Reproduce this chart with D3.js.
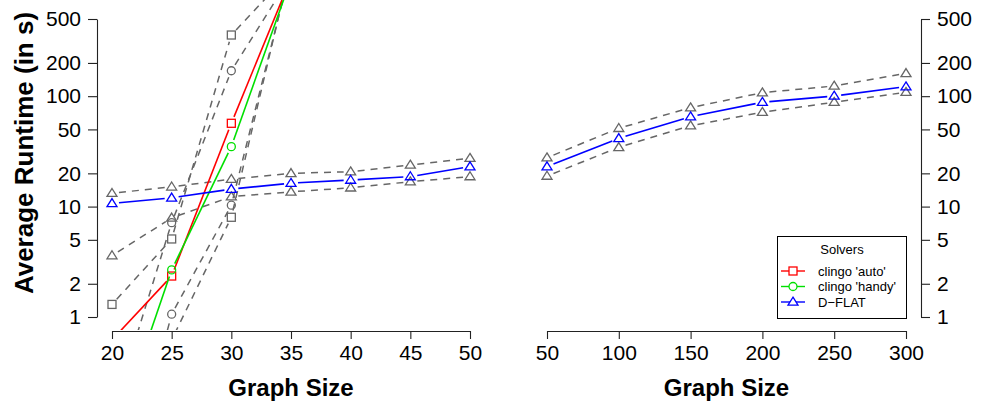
<!DOCTYPE html>
<html>
<head>
<meta charset="utf-8">
<script src="https://cdn.jsdelivr.net/npm/d3@7"></script>
<style>
  html, body { margin: 0; padding: 0; background: #fff; }
  svg { display: block; font-family: "Liberation Sans", Arial, Helvetica, sans-serif; }
</style>
</head>
<body>
<svg id="chart" width="982" height="405"></svg>
<script>
// ---- data -------------------------------------------------------------
const sizesSmall = [20, 25, 30, 35, 40, 45, 50];
const sizesLarge = [50, 100, 150, 200, 250, 300];

// clingo runs time out beyond size 35, so those entries are empty
const clingoAuto     = [0.62, 2.35, 56.8, 1175, null, null, null];
const clingoAutoMin  = [0.2, 0.62, 8.0, 1570, null, null, null];
const clingoAutoMax  = [1.30, 5.09, 358, 1350, null, null, null];
const clingoHandy    = [0.07, 2.67, 34.9, 1150, null, null, null];
const clingoHandyMin = [0.01, 1.06, 10.3, 1470, null, null, null];
const clingoHandyMax = [0.13, 7.15, 170, 1225, null, null, null];

const dflatSmall     = [10.7, 12.0, 14.4, 16.3, 17.4, 18.7, 23.0];
const dflatSmallMin  = [3.6, 7.9, 12.3, 13.6, 14.8, 16.8, 18.7];
const dflatSmallMax  = [13.2, 15.1, 17.7, 20.0, 20.7, 23.8, 27.4];

const dflatLarge     = [23.0, 41.5, 65.2, 88.1, 100.4, 121.9];
const dflatLargeMin  = [18.9, 34.4, 54.0, 71.5, 88.1, 108.5];
const dflatLargeMax  = [27.7, 51.2, 78.7, 107.6, 123.7, 161];

const yTicks = [1, 2, 5, 10, 20, 50, 100, 200, 500];
const xTicksSmall = [20, 25, 30, 35, 40, 45, 50];
const xTicksLarge = [50, 100, 150, 200, 250, 300];

const legendLabels = ["clingo 'auto'", "clingo 'handy'", "D\u2212FLAT"];
const legendColors = ["#ff0000", "#00e000", "#0000ff"];
const legendShapes = ["square", "circle", "triangle"];

// ---- layout -----------------------------------------------------------
const svg = d3.select("#chart");
const GRAY = "#666666";
const axisY = 331;

const y = d3.scaleLog().domain([1, 500]).range([317, 19]);
const xSmall = d3.scaleLinear().domain([20, 50]).range([112, 470]);
const xLarge = d3.scaleLinear().domain([50, 300]).range([547, 906]);

const defs = svg.append("defs");
defs.append("clipPath").attr("id", "clipL")
  .append("rect").attr("x", 97).attr("y", 0).attr("width", 388).attr("height", axisY - 1);
defs.append("clipPath").attr("id", "clipR")
  .append("rect").attr("x", 532).attr("y", 0).attr("width", 389).attr("height", axisY - 1);

// marker shapes (open symbols)
function marker(sel, shape, cx, cy, color) {
  if (shape === "square") {
    sel.append("rect").attr("x", cx - 4).attr("y", cy - 4).attr("width", 8).attr("height", 8)
      .attr("fill", "none").attr("stroke", color).attr("stroke-width", 1.3);
  } else if (shape === "circle") {
    sel.append("circle").attr("cx", cx).attr("cy", cy).attr("r", 4)
      .attr("fill", "none").attr("stroke", color).attr("stroke-width", 1.3);
  } else {
    const h = 8, w = 10;
    sel.append("path")
      .attr("d", `M${cx},${cy - h * 0.6}L${cx + w / 2},${cy + h * 0.4}L${cx - w / 2},${cy + h * 0.4}Z`)
      .attr("fill", "none").attr("stroke", color).attr("stroke-width", 1.3);
  }
}

// line + points with gaps around each point
function series(g, xScale, xs, vals, color, dashed, shape) {
  const pts = xs.map((d, i) => vals[i] == null ? null : [xScale(d), y(vals[i])]);
  const gap = 7;
  for (let i = 0; i < pts.length - 1; i++) {
    const a = pts[i], b = pts[i + 1];
    if (!a || !b) continue;
    const dx = b[0] - a[0], dy = b[1] - a[1];
    const len = Math.hypot(dx, dy);
    if (len <= 2 * gap) continue;
    const ux = dx / len, uy = dy / len;
    g.append("line")
      .attr("x1", a[0] + ux * gap).attr("y1", a[1] + uy * gap)
      .attr("x2", b[0] - ux * gap).attr("y2", b[1] - uy * gap)
      .attr("stroke", color).attr("stroke-width", dashed ? 1.5 : 1.6)
      .attr("stroke-dasharray", dashed ? "7,6" : null);
  }
  pts.forEach(p => { if (p) marker(g, shape, p[0], p[1], color); });
}

// ---- left panel -------------------------------------------------------
const gL = svg.append("g").attr("clip-path", "url(#clipL)");
series(gL, xSmall, sizesSmall, clingoAutoMin, GRAY, true, "square");
series(gL, xSmall, sizesSmall, clingoAutoMax, GRAY, true, "square");
series(gL, xSmall, sizesSmall, clingoHandyMin, GRAY, true, "circle");
series(gL, xSmall, sizesSmall, clingoHandyMax, GRAY, true, "circle");
series(gL, xSmall, sizesSmall, dflatSmallMin, GRAY, true, "triangle");
series(gL, xSmall, sizesSmall, dflatSmallMax, GRAY, true, "triangle");
series(gL, xSmall, sizesSmall, clingoAuto, "#ff0000", false, "square");
series(gL, xSmall, sizesSmall, clingoHandy, "#00e000", false, "circle");
series(gL, xSmall, sizesSmall, dflatSmall, "#0000ff", false, "triangle");

// ---- right panel ------------------------------------------------------
const gR = svg.append("g").attr("clip-path", "url(#clipR)");
series(gR, xLarge, sizesLarge, dflatLargeMin, GRAY, true, "triangle");
series(gR, xLarge, sizesLarge, dflatLargeMax, GRAY, true, "triangle");
series(gR, xLarge, sizesLarge, dflatLarge, "#0000ff", false, "triangle");

// ---- axes -------------------------------------------------------------
function styleAxis(g) {
  g.selectAll("path, line").attr("stroke", "#222").attr("stroke-width", 1.1);
  g.selectAll("text").attr("fill", "#000").attr("font-size", 21)
    .attr("font-family", "'Liberation Sans', Arial, sans-serif");
}

svg.append("g").attr("transform", "translate(97,0)")
  .call(d3.axisLeft(y).tickValues(yTicks).tickFormat(d3.format("d"))
    .tickSize(9).tickSizeOuter(0).tickPadding(7))
  .call(styleAxis);

svg.append("g").attr("transform", "translate(921,0)")
  .call(d3.axisRight(y).tickValues(yTicks).tickFormat(d3.format("d"))
    .tickSize(9).tickSizeOuter(0).tickPadding(7))
  .call(styleAxis);

svg.append("g").attr("transform", `translate(0,${axisY})`)
  .call(d3.axisBottom(xSmall).tickValues(xTicksSmall).tickFormat(d3.format("d"))
    .tickSize(8).tickSizeOuter(0).tickPadding(6))
  .call(styleAxis);

svg.append("g").attr("transform", `translate(0,${axisY})`)
  .call(d3.axisBottom(xLarge).tickValues(xTicksLarge).tickFormat(d3.format("d"))
    .tickSize(8).tickSizeOuter(0).tickPadding(6))
  .call(styleAxis);

// ---- titles -----------------------------------------------------------
svg.append("text").attr("x", (xSmall(20) + xSmall(50)) / 2).attr("y", 396)
  .attr("text-anchor", "middle").attr("font-weight", "bold").attr("font-size", 24)
  .text("Graph Size");
svg.append("text").attr("x", (xLarge(50) + xLarge(300)) / 2).attr("y", 396)
  .attr("text-anchor", "middle").attr("font-weight", "bold").attr("font-size", 24)
  .text("Graph Size");
svg.append("text")
  .attr("transform", "translate(33,153) rotate(-90)")
  .attr("text-anchor", "middle").attr("font-weight", "bold").attr("font-size", 26)
  .text("Average Runtime (in s)");

// ---- legend -----------------------------------------------------------
const lg = svg.append("g");
lg.append("rect").attr("x", 777.5).attr("y", 236.5).attr("width", 129).attr("height", 82)
  .attr("fill", "#fff").attr("stroke", "#000").attr("stroke-width", 1);
lg.append("text").attr("x", 842).attr("y", 253.5).attr("text-anchor", "middle")
  .attr("font-size", 13).text("Solvers");
legendLabels.forEach((lab, i) => {
  const cy = 271 + i * 15.5;
  lg.append("line").attr("x1", 781).attr("x2", 805).attr("y1", cy).attr("y2", cy)
    .attr("stroke", legendColors[i]).attr("stroke-width", 1.4);
  const mg = lg.append("g");
  marker(mg, legendShapes[i], 793, cy, legendColors[i]);
  mg.select("*").attr("fill", "#fff");
  lg.append("text").attr("x", 818).attr("y", cy + 4.5).attr("font-size", 13).text(lab);
});
</script>
</body>
</html>
